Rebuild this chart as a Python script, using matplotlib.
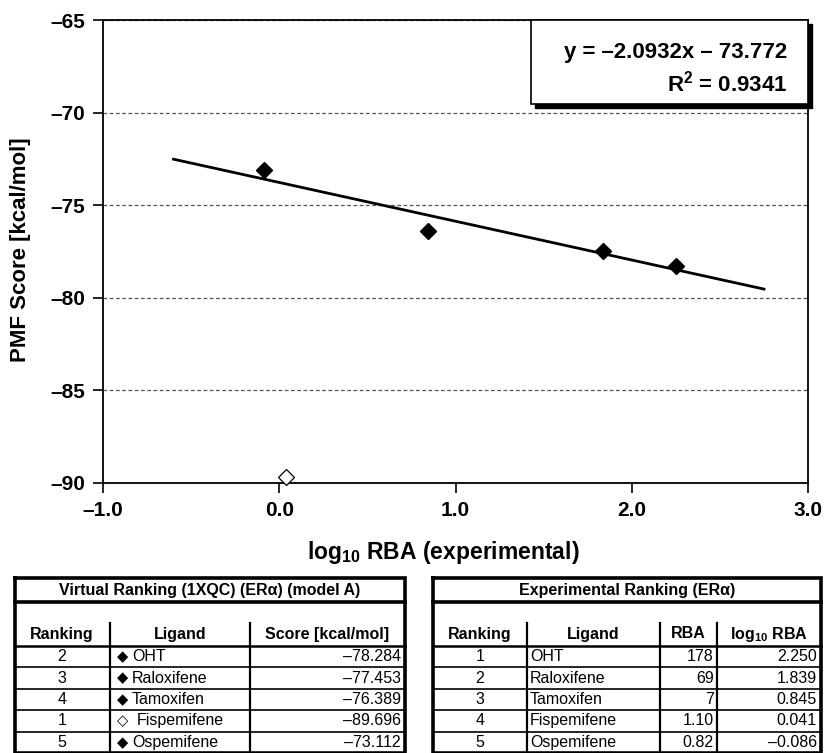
import numpy as np
import matplotlib
matplotlib.use('Agg')
import matplotlib.pyplot as plt
from matplotlib.ticker import FuncFormatter
from matplotlib.patches import Rectangle

# data
ligands = ['OHT', 'Raloxifene', 'Tamoxifen', 'Fispemifene', 'Ospemifene']
virtual_rank = [2, 3, 4, 1, 5]
pmf_score = [-78.284, -77.453, -76.389, -89.696, -73.112]
in_fit = [True, True, True, False, True]
exp_rank = [1, 2, 3, 4, 5]
rba = ['178', '69', '7', '1.10', '0.82']
log_rba = [2.250, 1.839, 0.845, 0.041, -0.086]
trend_x_range = [-0.6, 2.75]
eq_text = 'y = \u20132.0932x \u2013 73.772'
r2_text = 'R$^{\\mathbf{2}}$ = 0.9341'

plt.rcParams['font.family'] = ['Liberation Sans', 'DejaVu Sans']
plt.rcParams['mathtext.fontset'] = 'custom'
plt.rcParams['mathtext.rm'] = 'Liberation Sans'
plt.rcParams['mathtext.bf'] = 'Liberation Sans:bold'
narrow = ['Liberation Sans Narrow', 'Liberation Sans', 'DejaVu Sans']

W, H = 824, 753
fig = plt.figure(figsize=(W / 100, H / 100), dpi=100)
ax = fig.add_axes([103 / W, 1 - 483 / H, 705 / W, 463 / H])

x = np.array(log_rba)
y = np.array(pmf_score)
m = np.array(in_fit)

# trendline through the filled points
slope, icpt = np.polyfit(x[m], y[m], 1)
tx = np.array(trend_x_range)
ax.plot(tx, slope * tx + icpt, color='black', lw=2.0, zorder=3)

ax.plot(x[m], y[m], linestyle='none', marker='D', ms=8.5, color='black', zorder=4)
ax.plot(x[~m], y[~m], linestyle='none', marker='D', ms=8.5, mfc='white',
        mec='black', mew=0.9, zorder=4, clip_on=False)

ax.set_xlim(-1.0, 3.0)
ax.set_ylim(-90, -65)
ax.set_xticks([-1, 0, 1, 2, 3])
ax.set_yticks([-90, -85, -80, -75, -70, -65])
dash = lambda v, fmt: (fmt % v).replace('-', '\u2013')
ax.xaxis.set_major_formatter(FuncFormatter(lambda v, p: dash(v, '%.1f')))
ax.yaxis.set_major_formatter(FuncFormatter(lambda v, p: dash(v, '%d')))
ax.tick_params(direction='out', length=7, width=1.2, labelsize=15, pad=6)
for lab in ax.get_xticklabels() + ax.get_yticklabels():
    lab.set_fontweight('bold')
for s in ax.spines.values():
    s.set_linewidth(1.3)
ax.yaxis.grid(True, linestyle=(0, (3, 2)), color='#555555', lw=0.9)
ax.set_axisbelow(True)

# equation box with shadow
bx, by = 0.607, 0.818
sh = ax.transAxes.inverted()
off = np.array(sh.transform((4, 4)) - sh.transform((0, 0)))
ax.add_patch(Rectangle((bx + off[0], by - off[1]), 1 - bx, 1 - by, transform=ax.transAxes,
                       facecolor='black', edgecolor='black', clip_on=False, zorder=5))
ax.add_patch(Rectangle((bx, by), 1 - bx, 1 - by, transform=ax.transAxes,
                       facecolor='white', edgecolor='black', lw=1.2, clip_on=False, zorder=6))
ax.text(0.97, 0.930, eq_text, transform=ax.transAxes, ha='right', va='center',
        fontsize=16, fontweight='bold', zorder=7)
ax.text(0.97, 0.862, r2_text, transform=ax.transAxes, ha='right', va='center',
        fontsize=16, fontweight='bold', zorder=7)

# overlay in pixel coordinates for labels and tables
ov = fig.add_axes([0, 0, 1, 1])
ov.set_xlim(0, W)
ov.set_ylim(H, 0)
ov.axis('off')

ov.text(21, 250, 'PMF Score [kcal/mol]', rotation=90, ha='center', va='center',
        fontsize=16, fontweight='bold')
ov.text(443, 552, 'log$_{\\mathbf{10}}$ RBA (experimental)', ha='center', va='center',
        fontsize=16.5, fontweight='bold')

top, title_bot, div_top, head_bot = 578, 602, 623, 646
row_h = (H - head_bot) / 5
row_c = [head_bot + row_h * (i + 0.5) for i in range(5)]


def frame(x0, x1, dividers):
    ov.plot([x0, x1, x1, x0, x0], [top, top, H, H, top], color='black', lw=2.6,
            solid_joinstyle='miter')
    ov.plot([x0, x1], [title_bot, title_bot], color='black', lw=2.6)
    ov.plot([x0, x1], [head_bot, head_bot], color='black', lw=1.8)
    for i in range(1, 5):
        yy = head_bot + row_h * i
        ov.plot([x0, x1], [yy, yy], color='black', lw=1.2)
    for d in dividers:
        ov.plot([d, d], [div_top, H], color='black', lw=1.6)


# left table
frame(15, 405, [110, 250])
ov.text(210, 590, 'Virtual Ranking (1XQC) (ER\u03b1) (model A)', ha='center', va='center',
        fontsize=11.5, fontweight='bold')
for cx, lab in [(62, 'Ranking'), (180, 'Ligand'), (327, 'Score [kcal/mol]')]:
    ov.text(cx, 634, lab, ha='center', va='center', fontsize=11.5, fontweight='bold')
for i in range(5):
    ov.text(62, row_c[i], str(virtual_rank[i]), ha='center', va='center', fontsize=11.5,
            family=narrow)
    ov.text(123, row_c[i], '\u25c6' if in_fit[i] else '\u25c7', ha='center', va='center',
            fontsize=10.5, family=['DejaVu Sans'])
    ov.text(132 if in_fit[i] else 137, row_c[i], ligands[i], ha='left', va='center',
            fontsize=11.5, family=narrow)
    ov.text(401, row_c[i], ('%.3f' % pmf_score[i]).replace('-', '\u2013'), ha='right',
            va='center', fontsize=11.5, family=narrow)

# right table
frame(433, 821, [527, 660, 717])
ov.text(627, 590, 'Experimental Ranking (ER\u03b1)', ha='center', va='center',
        fontsize=11.5, fontweight='bold')
for cx, lab in [(480, 'Ranking'), (593, 'Ligand'), (688, 'RBA'),
                (769, 'log$_{\\mathbf{10}}$ RBA')]:
    ov.text(cx, 634, lab, ha='center', va='center', fontsize=11.5, fontweight='bold')
for i in range(5):
    ov.text(480, row_c[i], str(exp_rank[i]), ha='center', va='center', fontsize=11.5,
            family=narrow)
    ov.text(530, row_c[i], ligands[i], ha='left', va='center', fontsize=11.5, family=narrow)
    ov.text(714, row_c[i], rba[i], ha='right', va='center', fontsize=11.5, family=narrow)
    ov.text(817, row_c[i], ('%.3f' % log_rba[i]).replace('-', '\u2013'), ha='right',
            va='center', fontsize=11.5, family=narrow)

fig.savefig('out.png', dpi=100)
